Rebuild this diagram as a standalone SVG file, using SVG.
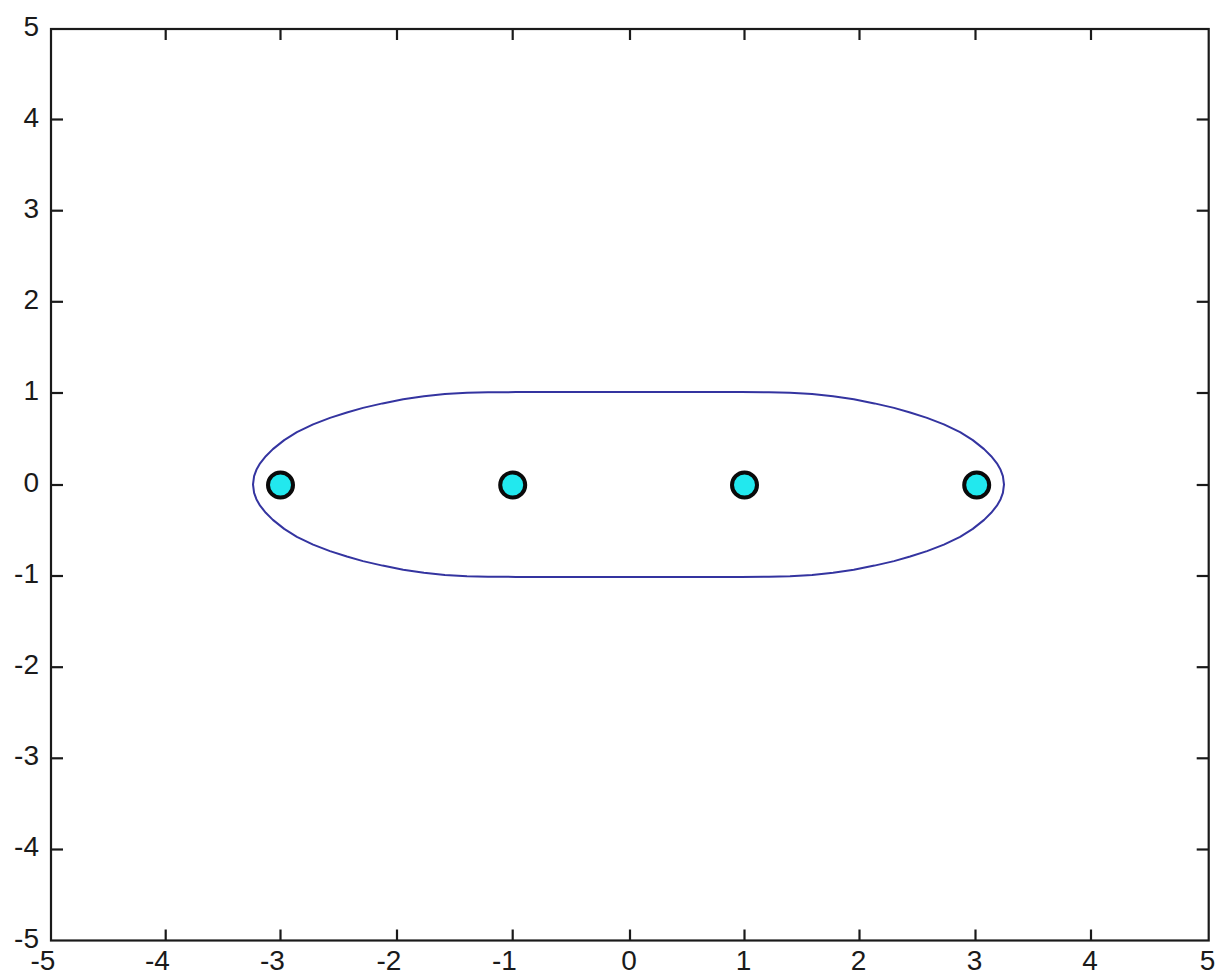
<svg xmlns="http://www.w3.org/2000/svg" width="1218" height="973" viewBox="0 0 1218 973">
<style>
.ax{stroke:#1a1a1a;stroke-width:2.2;fill:none}
.tk{stroke:#1a1a1a;stroke-width:2.2}
.lb{font-family:"Liberation Sans",Arial,sans-serif;font-size:28px;fill:#1a1a1a}
.yl{text-anchor:end}
.xl{text-anchor:middle}
.mk{fill:#22e8ee;stroke:#0a0a0a;stroke-width:4}
.el{fill:none;stroke:#3434a0;stroke-width:2;stroke-linejoin:round}
</style>
<rect width="1218" height="973" fill="#ffffff"/>
<g id="axes">
<rect class="ax" x="51" y="29" width="1157.7" height="911.5"/>
<g id="xticks" class="tk">
<line x1="165.7" y1="940.5" x2="165.7" y2="929.5"/><line x1="165.7" y1="29" x2="165.7" y2="40"/>
<line x1="280.5" y1="940.5" x2="280.5" y2="929.5"/><line x1="280.5" y1="29" x2="280.5" y2="40"/>
<line x1="397" y1="940.5" x2="397" y2="929.5"/><line x1="397" y1="29" x2="397" y2="40"/>
<line x1="512.7" y1="940.5" x2="512.7" y2="929.5"/><line x1="512.7" y1="29" x2="512.7" y2="40"/>
<line x1="630" y1="940.5" x2="630" y2="929.5"/><line x1="630" y1="29" x2="630" y2="40"/>
<line x1="744.5" y1="940.5" x2="744.5" y2="929.5"/><line x1="744.5" y1="29" x2="744.5" y2="40"/>
<line x1="859.5" y1="940.5" x2="859.5" y2="929.5"/><line x1="859.5" y1="29" x2="859.5" y2="40"/>
<line x1="975.5" y1="940.5" x2="975.5" y2="929.5"/><line x1="975.5" y1="29" x2="975.5" y2="40"/>
<line x1="1091" y1="940.5" x2="1091" y2="929.5"/><line x1="1091" y1="29" x2="1091" y2="40"/>
</g>
<g id="yticks" class="tk">
<line x1="51" y1="119.5" x2="63" y2="119.5"/><line x1="1208.7" y1="119.5" x2="1196.7" y2="119.5"/>
<line x1="51" y1="210.7" x2="63" y2="210.7"/><line x1="1208.7" y1="210.7" x2="1196.7" y2="210.7"/>
<line x1="51" y1="301.8" x2="63" y2="301.8"/><line x1="1208.7" y1="301.8" x2="1196.7" y2="301.8"/>
<line x1="51" y1="393" x2="63" y2="393"/><line x1="1208.7" y1="393" x2="1196.7" y2="393"/>
<line x1="51" y1="485" x2="63" y2="485"/><line x1="1208.7" y1="485" x2="1196.7" y2="485"/>
<line x1="51" y1="576" x2="63" y2="576"/><line x1="1208.7" y1="576" x2="1196.7" y2="576"/>
<line x1="51" y1="667.2" x2="63" y2="667.2"/><line x1="1208.7" y1="667.2" x2="1196.7" y2="667.2"/>
<line x1="51" y1="758.3" x2="63" y2="758.3"/><line x1="1208.7" y1="758.3" x2="1196.7" y2="758.3"/>
<line x1="51" y1="849.5" x2="63" y2="849.5"/><line x1="1208.7" y1="849.5" x2="1196.7" y2="849.5"/>
</g>
<g id="ylabels" class="lb yl">
<text x="39" y="36">5</text>
<text x="39" y="127">4</text>
<text x="39" y="218">3</text>
<text x="39" y="309">2</text>
<text x="39" y="400">1</text>
<text x="39" y="492">0</text>
<text x="39" y="583">-1</text>
<text x="39" y="674">-2</text>
<text x="39" y="765">-3</text>
<text x="39" y="856">-4</text>
<text x="39" y="948">-5</text>
</g>
<g id="xlabels" class="lb xl">
<text x="43" y="969.5">-5</text>
<text x="157.5" y="969.5">-4</text>
<text x="272.5" y="969.5">-3</text>
<text x="389" y="969.5">-2</text>
<text x="504.5" y="969.5">-1</text>
<text x="629" y="969.5">0</text>
<text x="743.5" y="969.5">1</text>
<text x="858.5" y="969.5">2</text>
<text x="974.5" y="969.5">3</text>
<text x="1090" y="969.5">4</text>
<text x="1207.5" y="969.5">5</text>
</g>
</g>
<g id="ellipse">
<path class="el" d="M628.5,392 L515.85,392.1 L488.1,392.3 L467,392.8 L444.9,394 L423.9,396.3 L403.2,399.3 L382.55,403.4 L363,407.9 L346.9,412.5 L330,417.9 L313.1,424.4 L296.9,432.2 L284.2,440.1 L272.9,449.1 L265.8,456.2 L260.1,463.3 L256.4,469.8 L254.1,476.2 L253,484.5 L254.1,492.8 L256.4,499.2 L260.1,505.7 L265.8,512.8 L272.9,519.9 L284.2,528.9 L296.9,536.8 L313.1,544.6 L330,551.1 L346.9,556.5 L363,561.1 L382.55,565.6 L403.2,569.7 L423.9,572.7 L444.9,575 L467,576.2 L488.1,576.7 L515.85,576.9 L628.5,577 L741.15,576.9 L768.9,576.7 L790,576.2 L812.1,575 L833.1,572.7 L853.8,569.7 L874.45,565.6 L894,561.1 L910.1,556.5 L927,551.1 L943.9,544.6 L960.1,536.8 L972.8,528.9 L984.1,519.9 L991.2,512.8 L996.9,505.7 L1000.6,499.2 L1002.9,492.8 L1004,484.5 L1002.9,476.2 L1000.6,469.8 L996.9,463.3 L991.2,456.2 L984.1,449.1 L972.8,440.1 L960.1,432.2 L943.9,424.4 L927,417.9 L910.1,412.5 L894,407.9 L874.45,403.4 L853.8,399.3 L833.1,396.3 L812.1,394 L790,392.8 L768.9,392.3 L741.15,392.1 Z"/>
</g>
<g id="p1"><circle class="mk" cx="280.5" cy="485" r="12.5"/></g>
<g id="p2"><circle class="mk" cx="512.7" cy="485" r="12.5"/></g>
<g id="p3"><circle class="mk" cx="744.5" cy="485" r="12.5"/></g>
<g id="p4"><circle class="mk" cx="976.7" cy="485" r="12.5"/></g>
</svg>
